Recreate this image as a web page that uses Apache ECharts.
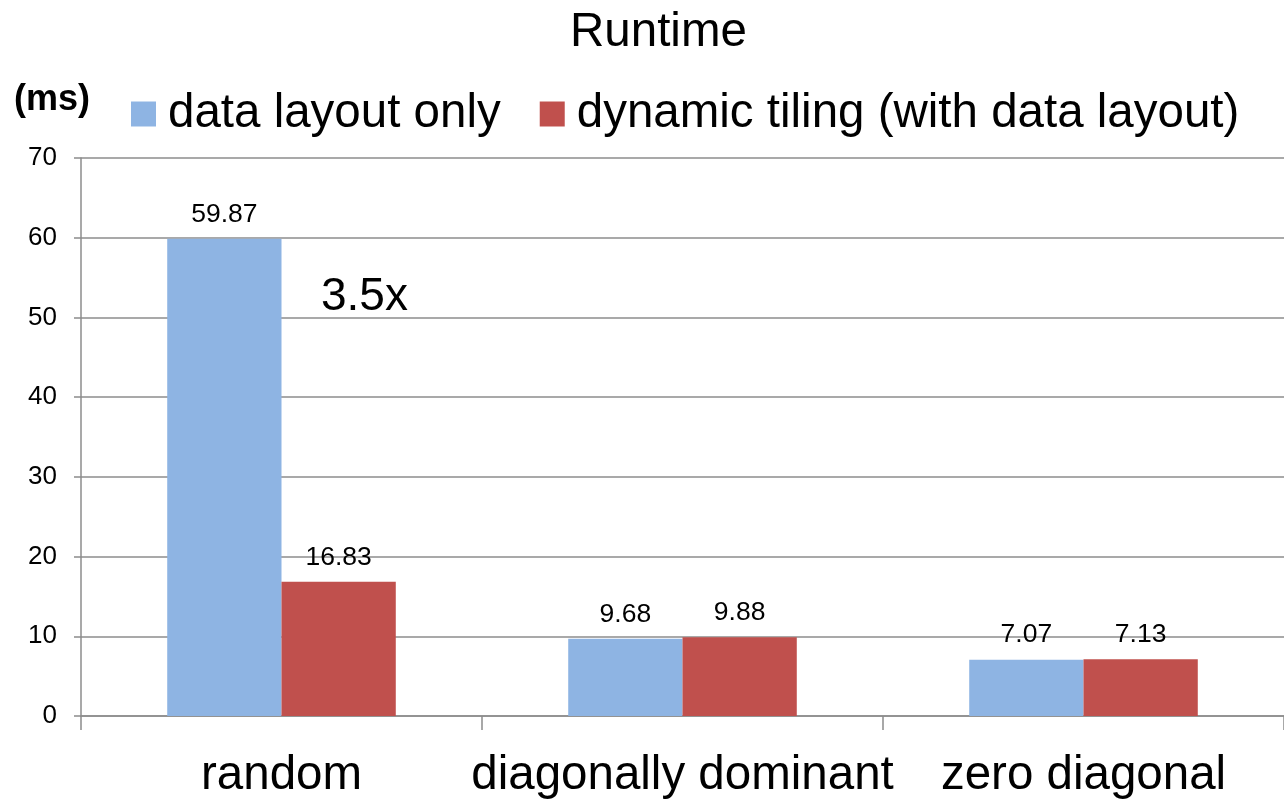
<!DOCTYPE html>
<html>
<head>
<meta charset="utf-8">
<title>Runtime</title>
<script src="https://cdn.jsdelivr.net/npm/echarts@6/dist/echarts.min.js"></script>
<style>
  html, body { margin: 0; padding: 0; background: #fff; }
  #chart { width: 1284px; height: 800px; }
</style>
</head>
<body>
<div id="chart"></div>
<script>
// Matrix categories on the x axis
const categories = ['random', 'diagonally dominant', 'zero diagonal'];
// Runtime in ms for each variant
const dataLayoutOnly = [59.87, 9.68, 7.07];
const dynamicTiling = [16.83, 9.88, 7.13];
const seriesNames = ['data layout only', 'dynamic tiling (with data layout)'];
// Value axis range
const yMin = 0, yMax = 70, yStep = 10;

const FONT = '"Liberation Sans", Arial, Helvetica, sans-serif';
const GRAY = '#8c8c8c';

const chart = echarts.init(document.getElementById('chart'), null, { renderer: 'canvas' });

const labelStyle = {
  show: true,
  position: 'top',
  distance: 11,
  fontFamily: FONT,
  fontSize: 26.5,
  color: '#000',
  formatter: p => p.value.toFixed(2)
};

chart.setOption({
  animation: false,
  backgroundColor: '#fff',
  textStyle: { fontFamily: FONT },
  title: {
    text: 'Runtime',
    left: 565,
    top: 4,
    textStyle: { fontFamily: FONT, fontSize: 47.5, fontWeight: 'normal', color: '#000' }
  },
  legend: {
    left: 126,
    top: 85,
    itemWidth: 25,
    itemHeight: 25,
    itemGap: 39,
    icon: 'rect',
    textStyle: { fontFamily: FONT, fontSize: 47.5, color: '#000', padding: [0, 0, 0, 7] },
    data: seriesNames
  },
  grid: { left: 81, top: 158, width: 1206, height: 559, containLabel: false },
  xAxis: {
    type: 'category',
    data: categories,
    axisLine: { lineStyle: { color: GRAY, width: 1.5 } },
    axisTick: { show: true, length: 14, lineStyle: { color: GRAY, width: 1.5 } },
    axisLabel: { fontFamily: FONT, fontSize: 47.5, color: '#000', margin: 36, interval: 0 }
  },
  yAxis: {
    type: 'value',
    min: yMin,
    max: yMax,
    interval: yStep,
    axisLine: { show: true, lineStyle: { color: GRAY, width: 1.5 } },
    axisTick: { show: true, length: 7, lineStyle: { color: GRAY, width: 1.5 } },
    splitLine: { show: true, lineStyle: { color: GRAY, width: 1.5 } },
    axisLabel: { fontFamily: FONT, fontSize: 26, color: '#000', margin: 24, align: 'right' }
  },
  series: [
    {
      name: seriesNames[0],
      type: 'bar',
      data: dataLayoutOnly,
      itemStyle: { color: '#8EB4E3' },
      barGap: '0%',
      barCategoryGap: '43%',
      label: labelStyle
    },
    {
      name: seriesNames[1],
      type: 'bar',
      data: dynamicTiling,
      itemStyle: { color: '#C0504D' },
      label: labelStyle
    }
  ],
  graphic: [
    {
      type: 'text',
      left: 14,
      top: 82,
      style: { text: '(ms)', font: 'bold 36px ' + FONT, fill: '#000' }
    },
    {
      type: 'text',
      left: 321,
      top: 274,
      style: { text: '3.5x', font: '46px ' + FONT, fill: '#000' }
    }
  ]
});
</script>
</body>
</html>
